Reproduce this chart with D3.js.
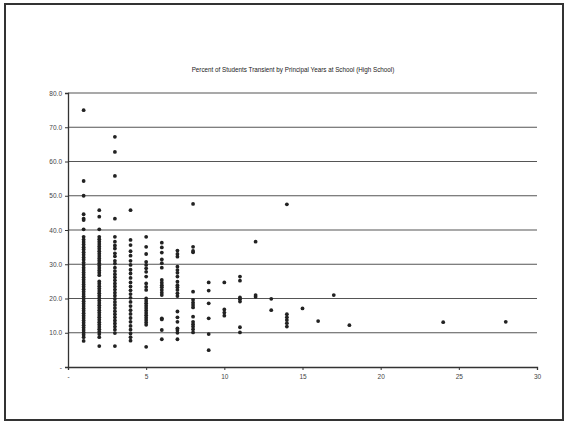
<!DOCTYPE html>
<html><head><meta charset="utf-8">
<script src="https://cdn.jsdelivr.net/npm/d3@7"></script>
<style>html,body{margin:0;padding:0;background:#fff;}</style>
</head><body>
<svg id="c" width="568" height="426"></svg>
<script>
const title = "Percent of Students Transient by Principal Years at School (High School)";
const xTicks = [0, 5, 10, 15, 20, 25, 30];
const xTickLabels = ["-", "5", "10", "15", "20", "25", "30"];
const yTicks = [0, 10, 20, 30, 40, 50, 60, 70, 80];
const yTickLabels = ["-", "10.0", "20.0", "30.0", "40.0", "50.0", "60.0", "70.0", "80.0"];

const years = [1,2,3,4,5,6,7,8,9,10,11,12,13,14,15,16,17,18,24,28];
const yr1 = [75.0,54.3,50.0,44.6,43.3,42.9,40.2,38.0,37.2,36.5,35.8,35.0,34.3,33.5,32.8,32.0,31.3,30.5,29.8,29.0,28.3,27.6,26.9,26.2,25.5,24.8,24.1,23.4,22.7,22.0,21.3,20.6,19.9,19.2,18.5,17.8,17.1,16.4,15.7,15.0,14.3,13.6,12.9,12.2,11.5,10.8,10.1,9.4,8.7,7.6];
const yr2 = [45.8,43.9,40.2,38.0,37.3,36.6,35.9,35.2,34.5,33.8,33.1,32.4,31.7,31.0,30.3,29.6,28.9,28.2,27.5,26.8,25.0,24.3,23.6,22.9,22.2,21.5,20.8,20.1,19.4,18.7,18.0,17.3,16.6,15.9,15.2,14.5,13.8,13.1,12.4,11.7,11.0,10.3,9.6,8.7,6.1];
const yr3 = [67.2,62.8,55.8,43.3,38.0,36.6,35.5,34.6,33.2,32.3,31.0,30.2,29.0,28.0,27.1,26.2,25.3,24.4,23.5,22.6,21.7,20.8,19.9,19.0,18.1,17.2,16.3,15.4,14.5,13.6,12.7,11.8,10.9,9.9,6.1];
const yr4 = [45.8,37.1,35.6,33.8,32.5,31.0,29.8,28.4,27.3,26.0,24.7,23.5,22.4,21.3,20.2,19.0,17.8,16.6,15.5,14.3,13.2,12.0,10.9,9.8,8.7,7.7];
const yr5 = [38.0,35.1,33.0,30.7,29.8,28.8,27.8,26.4,24.4,23.4,22.5,20.0,19.3,18.6,17.9,17.2,16.5,15.8,15.1,14.4,13.7,13.0,12.3,5.9];
const yr6 = [36.3,34.9,33.4,31.4,30.3,29.0,25.4,24.6,23.9,23.3,22.5,21.7,21.0,14.2,13.9,10.8,8.1];
const yr7 = [34.0,33.0,32.2,29.3,28.3,27.5,26.4,24.9,23.9,23.3,22.5,21.5,20.7,16.2,14.5,13.2,11.3,10.8,10.0,8.1];
const yr8 = [47.6,35.1,33.9,33.5,22.0,19.6,18.8,18.1,17.4,14.7,13.2,12.5,11.8,11.0,10.1];
const yr9 = [24.7,22.3,18.6,14.2,9.6,4.9];
const yr10 = [24.7,16.8,15.9,15.0];
const yr11 = [26.4,25.2,20.3,19.8,19.1,11.6,10.1];
const yr12 = [36.6,21.0,20.5];
const yr13 = [19.9,16.6];
const yr14 = [47.5,15.4,14.5,13.7,12.8,11.8];
const yr15 = [17.1];
const yr16 = [13.4];
const yr17 = [21.0];
const yr18 = [12.2];
const yr24 = [13.1];
const yr28 = [13.2];
const seriesByYear = [yr1,yr2,yr3,yr4,yr5,yr6,yr7,yr8,yr9,yr10,yr11,yr12,yr13,yr14,yr15,yr16,yr17,yr18,yr24,yr28];

const points = [];
years.forEach((yr, i) => seriesByYear[i].forEach(v => points.push({x: yr, y: v})));

const svg = d3.select("#c");
// outer frame
svg.append("rect").attr("x", 5).attr("y", 4).attr("width", 558).attr("height", 416)
  .attr("fill", "none").attr("stroke", "#333").attr("stroke-width", 2);

const x = d3.scaleLinear().domain([0, 30]).range([68, 537]);
const y = d3.scaleLinear().domain([0, 80]).range([367, 93]);

svg.append("text").attr("x", 293).attr("y", 72).attr("text-anchor", "middle")
  .attr("font-family", "Liberation Sans, Arial, sans-serif").attr("font-size", 6.3)
  .attr("fill", "#222").text(title);

// gridlines
svg.append("g").selectAll("line").data(yTicks.filter(d => d > 0)).join("line")
  .attr("x1", x(0)).attr("x2", x(30)).attr("y1", d => y(d)).attr("y2", d => y(d))
  .attr("stroke", "#555").attr("stroke-width", 1.1);

// y axis
const yAxis = d3.axisLeft(y).tickValues(yTicks).tickSize(3).tickFormat((d, i) => yTickLabels[i]);
const gy = svg.append("g").attr("transform", `translate(${x(0)},0)`).call(yAxis);
gy.attr("color", "#444");
gy.select(".domain").attr("stroke", "#333").attr("stroke-width", 1.3);
gy.selectAll(".tick line").attr("stroke", "#333");
gy.selectAll("text").attr("font-family", "Liberation Sans, Arial, sans-serif").attr("font-size", 6.5).attr("fill", "#444").attr("x", -6);

// x axis
const xAxis = d3.axisBottom(x).tickValues(xTicks).tickSize(3).tickFormat((d, i) => xTickLabels[i]);
const gx = svg.append("g").attr("transform", `translate(0,${y(0)})`).call(xAxis);
gx.attr("color", "#444");
gx.select(".domain").attr("stroke", "#333").attr("stroke-width", 1.3);
gx.selectAll(".tick line").attr("stroke", "#333");
gx.selectAll("text").attr("font-family", "Liberation Sans, Arial, sans-serif").attr("font-size", 6.5).attr("fill", "#444").attr("y", 7);

// points
svg.append("g").selectAll("circle").data(points).join("circle")
  .attr("cx", d => x(d.x)).attr("cy", d => y(d.y)).attr("r", 1.9).attr("fill", "#222");
</script>
</body></html>
